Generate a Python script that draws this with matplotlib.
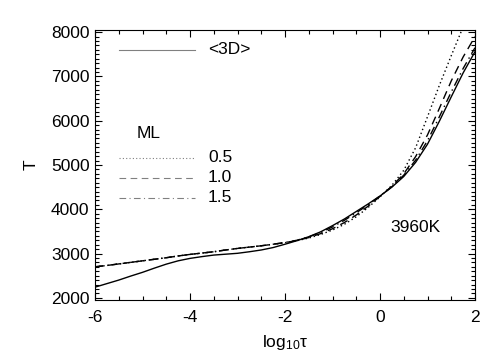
import matplotlib
matplotlib.use("Agg")
import matplotlib.pyplot as plt
from matplotlib.ticker import MultipleLocator

plt.rcParams['font.family'] = ['Liberation Sans', 'DejaVu Sans']
plt.rcParams['mathtext.fontset'] = 'custom'
plt.rcParams['mathtext.rm'] = 'Liberation Sans'
plt.rcParams['mathtext.it'] = 'Liberation Sans'

log_tau = [-6, -5.75, -5.5, -5.25, -5, -4.75, -4.5, -4.25, -4, -3.75, -3.5, -3.25,
           -3, -2.75, -2.5, -2.25, -2, -1.75, -1.5, -1.25, -1, -0.75, -0.5, -0.25,
           0, 0.25, 0.5, 0.75, 1.0, 1.25, 1.5, 1.75, 2.0]

T_3d = [2240, 2320, 2400, 2490, 2575, 2670, 2760, 2835, 2890, 2930, 2965, 2985,
        3005, 3040, 3080, 3135, 3210, 3290, 3380, 3490, 3630, 3780, 3950, 4120,
        4300, 4500, 4740, 5060, 5470, 5990, 6540, 7080, 7560]

T_ml05 = [2700, 2730, 2765, 2800, 2835, 2870, 2905, 2945, 2980, 3010, 3040, 3080,
          3115, 3145, 3175, 3210, 3245, 3290, 3350, 3430, 3530, 3660, 3830, 4040,
          4280, 4540, 4880, 5390, 6090, 6800, 7470, 8120, 8750]

T_ml10 = [2700, 2730, 2765, 2800, 2835, 2870, 2905, 2945, 2980, 3010, 3040, 3080,
          3115, 3145, 3175, 3210, 3245, 3295, 3360, 3450, 3560, 3700, 3870, 4070,
          4290, 4520, 4800, 5190, 5680, 6280, 6900, 7440, 7900]

T_ml15 = [2700, 2730, 2765, 2800, 2835, 2870, 2905, 2945, 2980, 3010, 3040, 3080,
          3115, 3145, 3175, 3210, 3250, 3300, 3375, 3475, 3600, 3750, 3920, 4100,
          4300, 4510, 4770, 5110, 5550, 6090, 6650, 7180, 7650]

ml_labels = ["0.5", "1.0", "1.5"]
xticks = [-6, -4, -2, 0, 2]
yticks = [2000, 3000, 4000, 5000, 6000, 7000, 8000]

FS = 12.5

fig = plt.figure(figsize=(5.04, 3.6), dpi=100)
ax = fig.add_axes([95/504, 60/360, 380/504, 270/360])

ax.plot(log_tau, T_3d, color='black', lw=1.0, ls='-')
ax.plot(log_tau, T_ml05, color='black', lw=1.0, ls=(0, (1, 2)))
ax.plot(log_tau, T_ml10, color='black', lw=1.0, ls=(0, (6, 4)))
ax.plot(log_tau, T_ml15, color='black', lw=1.0, ls=(0, (6, 3, 1, 3)))

ax.set_xlim(-6, 2)
ax.set_ylim(1950, 8050)
ax.set_xticks(xticks)
ax.set_xticklabels([str(v) for v in xticks])
ax.set_yticks(yticks)
ax.set_yticklabels([str(v) for v in yticks])
ax.xaxis.set_minor_locator(MultipleLocator(0.5))
ax.yaxis.set_minor_locator(MultipleLocator(100))
ax.tick_params(which='both', direction='in', top=True, right=True, labelsize=FS, width=0.8)
ax.tick_params(which='major', length=5)
ax.tick_params(which='minor', length=3)
ax.tick_params(axis='x', pad=7)
ax.tick_params(axis='y', pad=4)
for s in ax.spines.values():
    s.set_linewidth(0.8)

ax.set_xlabel(r"log$_{\mathregular{10}}$τ", fontsize=FS, labelpad=6)
ax.set_ylabel("T", fontsize=FS, labelpad=9)

# legend (drawn IDL-style)
def px(x, y):
    return ((x - 95) / 380, (300 - y) / 270)

x0, y0 = px(119, 50); x1, _ = px(195, 50)
ax.plot([x0, x1], [y0, y0], transform=ax.transAxes, color='0.5', lw=0.8, ls='-')
tx, _ = px(208, 50)
ax.text(tx, y0, "<3D>", transform=ax.transAxes, fontsize=FS, va='center', ha='left')

mx, my = px(137, 133)
ax.text(mx, my, "ML", transform=ax.transAxes, fontsize=FS, va='center', ha='left')

styles = [(0, (1, 2)), (0, (6, 4)), (0, (6, 3, 1, 3))]
for lab, st, yy in zip(ml_labels, styles, [158, 178, 198]):
    _, yl = px(0, yy)
    ax.plot([x0, x1], [yl, yl], transform=ax.transAxes, color='0.5', lw=0.8, ls=st)
    ax.text(tx, yl, lab, transform=ax.transAxes, fontsize=FS, va='center', ha='left')

kx, ky = px(390, 228)
ax.text(kx, ky, "3960K", transform=ax.transAxes, fontsize=FS, va='center', ha='left')

fig.savefig("out.png", dpi=100)
